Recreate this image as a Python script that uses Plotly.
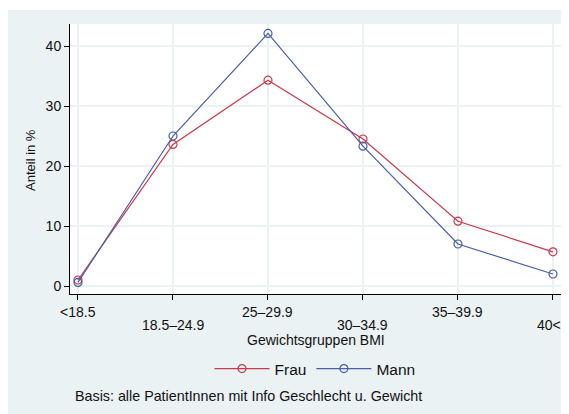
import plotly.graph_objects as go

categories = ["<18.5", "18.5–24.9", "25–29.9", "30–34.9", "35–39.9", "40<="]
frau = [1.0, 23.6, 34.3, 24.5, 10.8, 5.7]
mann = [0.6, 25.0, 42.1, 23.3, 7.0, 2.0]
y_ticks = [0, 10, 20, 30, 40]

OFF = 8  # page body margin
W, H = 569 - OFF, 414 - OFF
# plot area in screenshot pixels: x 70..562, y 24..294
L, R, T = 70 - OFF, W - (562 - OFF), 24 - OFF
B = H - (294 - OFF)
pw, ph = W - L - R, H - T - B

def px_x(px):
    return (px - OFF - L) / pw

def px_y(py):
    return (H - B - (py - OFF)) / ph

bg = "#EAF2F3"
red = "#C93A4B"
blue = "#4A5FA6"
font = "Liberation Sans, Arial, sans-serif"
txt = "#111111"

xidx = list(range(len(categories)))

fig = go.Figure()
fig.add_trace(go.Scatter(
    x=xidx, y=frau, name="Frau", mode="lines+markers",
    line=dict(color=red, width=1.2),
    marker=dict(symbol="circle-open", size=8, color=red, line=dict(width=1.2)),
))
fig.add_trace(go.Scatter(
    x=xidx, y=mann, name="Mann", mode="lines+markers",
    line=dict(color=blue, width=1.2),
    marker=dict(symbol="circle-open", size=8, color=blue, line=dict(width=1.2)),
))

annotations = []
for i, c in enumerate(categories):
    annotations.append(dict(
        text=c, xref="x", yref="paper", x=i,
        y=px_y(312 if i % 2 == 0 else 325), xanchor="center", yanchor="middle",
        showarrow=False, font=dict(size=14, family=font, color=txt)))
annotations += [
    dict(text="Gewichtsgruppen BMI", xref="paper", yref="paper",
         x=px_x(316), y=px_y(340), xanchor="center", yanchor="middle",
         showarrow=False, font=dict(size=14, family=font, color=txt)),
    dict(text="Anteil in %", xref="paper", yref="paper", textangle=-90,
         x=px_x(30), y=px_y(160), xanchor="center", yanchor="middle",
         showarrow=False, font=dict(size=13, family=font, color=txt)),
    dict(text="Basis: alle PatientInnen mit Info Geschlecht u. Gewicht",
         xref="paper", yref="paper", x=px_x(73), y=px_y(396),
         xanchor="left", yanchor="middle", showarrow=False,
         font=dict(size=14.3, family=font, color=txt)),
]

fig.update_layout(
    width=W, height=H,
    margin=dict(l=L, r=R, t=T, b=B, pad=0),
    paper_bgcolor=bg, plot_bgcolor="white",
    font=dict(family=font, size=14, color=txt),
    showlegend=True,
    legend=dict(orientation="h", x=px_x(315), y=px_y(369), xanchor="center", yanchor="middle",
                font=dict(size=15.5), bgcolor="rgba(0,0,0,0)", itemwidth=55, tracegroupgap=0),
    xaxis=dict(
        range=[-0.084, 5.095], tickmode="array", tickvals=xidx, showticklabels=False,
        showgrid=True, gridcolor=bg, gridwidth=1.5, zeroline=False,
        showline=True, linecolor="black", linewidth=1,
        ticks="outside", ticklen=5, tickcolor="black",
    ),
    yaxis=dict(
        range=[-1.33, 43.67], tickmode="array", tickvals=y_ticks,
        showgrid=True, gridcolor=bg, gridwidth=1.5, zeroline=False,
        showline=True, linecolor="black", linewidth=1,
        ticks="outside", ticklen=5, tickcolor="black",
        tickfont=dict(size=14),
    ),
    shapes=[
        dict(type="rect", xref="paper", yref="paper", x0=-1, x1=2, y0=px_y(10), y1=2,
             fillcolor="white", line=dict(width=0), layer="above"),
    ],
    annotations=annotations,
)

fig.write_html("out.html")
